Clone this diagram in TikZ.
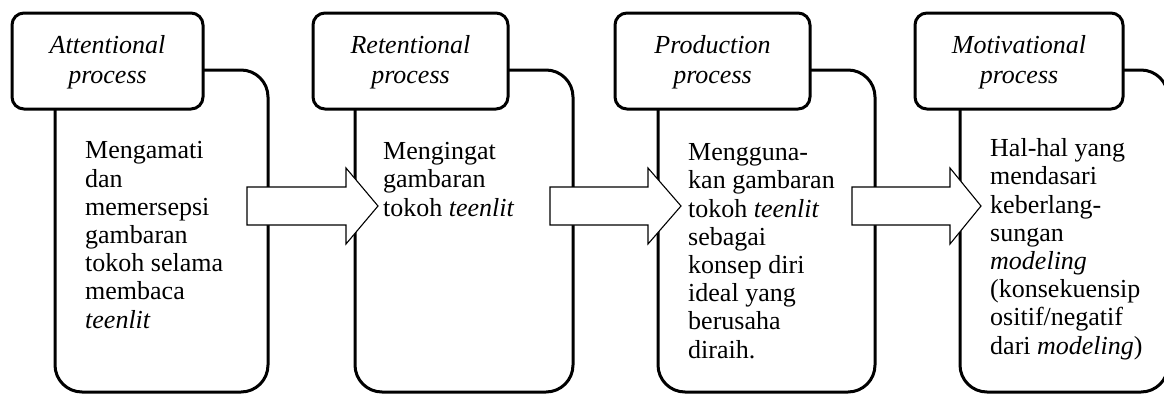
\documentclass[tikz,border=0pt]{standalone}
\usepackage{fontspec}
\setmainfont{Liberation Serif}
\begin{document}
\begin{tikzpicture}[x=1pt,y=-1pt,
  frame/.style={line width=3pt, rounded corners=27pt, draw=black, fill=white},
  hdr/.style={line width=3pt, rounded corners=12pt, draw=black, fill=white},
  blockarrow/.style={draw=black, line width=1.1pt, fill=white, line join=miter},
  hdrtext/.style={font=\fontsize{26}{30}\selectfont\itshape, align=center, anchor=base, inner sep=0pt},
  bodytext/.style={font=\fontsize{26}{28.2}\selectfont, align=left, anchor=base west, inner sep=0pt}]
\useasboundingbox (0,0) rectangle (1164,394);
\begin{scope}
\clip (0,0) rectangle (1164,394);
% big boxes
\draw[frame] (55,70) rectangle (268,392);
\draw[frame] (355,70) rectangle (573,392);
\draw[frame] (658,70) rectangle (875,392);
\draw[frame] (960,70) rectangle (1168,392);
% block arrows
\draw[blockarrow] (247,187) -- (346,187) -- (346,168) -- (378,206) -- (346,244) -- (346,225) -- (247,225) -- cycle;
\draw[blockarrow] (550,187) -- (648,187) -- (648,168) -- (681,206) -- (648,244) -- (648,225) -- (550,225) -- cycle;
\draw[blockarrow] (852,187) -- (950,187) -- (950,168) -- (981,206) -- (950,244) -- (950,225) -- (852,225) -- cycle;
% headers
\draw[hdr] (12,13) rectangle (203,109);
\draw[hdr] (313,13) rectangle (508,109);
\draw[hdr] (615,13) rectangle (810,109);
\draw[hdr] (915,13) rectangle (1123,109);
\end{scope}
% anchor base = baseline of the last line
\node[hdrtext] (h1) at (107.5,83) {Attentional\\process};
\node[hdrtext] (h2) at (410.5,83) {Retentional\\process};
\node[hdrtext] (h3) at (712.5,83) {Production\\process};
\node[hdrtext] (h4) at (1019,83) {Motivational\\process};
\node[bodytext] (b1) at (85,328) {Mengamati\\dan\\memersepsi\\gambaran\\tokoh selama\\membaca\\\textit{teenlit}};
\node[bodytext] (b2) at (383,216) {Mengingat\\gambaran\\tokoh \textit{teenlit}};
\node[bodytext] (b3) at (688,358) {Mengguna-\\kan gambaran\\tokoh \textit{teenlit}\\sebagai\\konsep diri\\ideal yang\\berusaha\\diraih.};
\node[bodytext] (b4) at (990,354) {Hal-hal yang\\mendasari\\keberlang-\\sungan\\\textit{modeling}\\(konsekuensip\\ositif/negatif\\dari \textit{modeling})};
\end{tikzpicture}
\end{document}
